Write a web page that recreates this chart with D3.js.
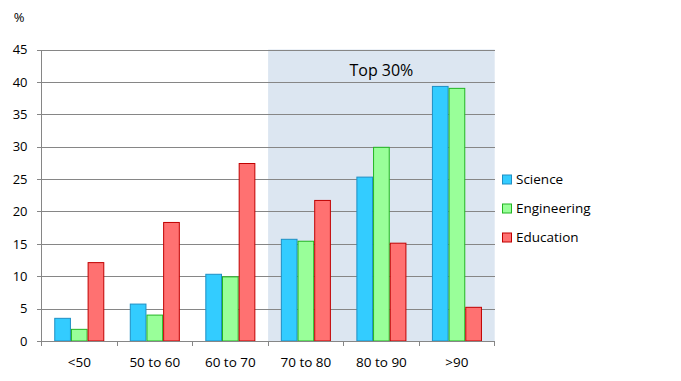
<!DOCTYPE html>
<html>
<head>
<meta charset="utf-8">
<script src="https://cdn.jsdelivr.net/npm/d3@7"></script>
<style>
  html, body { margin: 0; padding: 0; background: #fff; }
  svg { display: block; }
  text { font-family: "Open Sans", "Noto Sans", sans-serif; fill: #000; }
</style>
</head>
<body>
<svg id="chart" width="681" height="381"></svg>
<script>
const categories = ["<50", "50 to 60", "60 to 70", "70 to 80", "80 to 90", ">90"];
const seriesNames = ["Science", "Engineering", "Education"];
const science = [3.5, 5.7, 10.3, 15.7, 25.3, 39.3];
const engineering = [1.8, 4.0, 9.9, 15.4, 29.9, 39.0];
const education = [12.1, 18.3, 27.4, 21.7, 15.1, 5.2];
const yTicks = [0, 5, 10, 15, 20, 25, 30, 35, 40, 45];
const highlightFrom = "70 to 80";
const highlightLabel = "Top 30%";
const yUnit = "%";

(function () {
const seriesValues = [science, engineering, education];
const fills = ["#33ccff", "#99ff99", "#ff7171"];
const strokes = ["#1f8fc4", "#22b522", "#c00000"];

const svg = d3.select("#chart");
const pLeft = 41.5, pRight = 494.7, pTop = 49.5, pBottom = 341;

const x = d3.scaleBand().domain(categories).range([pLeft, pRight]).padding(0);
const inner = d3.scaleBand().domain(seriesNames).range([12.75, x.bandwidth() - 12.75]).padding(0);
const y = d3.scaleLinear().domain([0, 45]).range([pBottom, pTop]);

// highlight region
svg.append("rect")
  .attr("x", x(highlightFrom))
  .attr("y", y(45))
  .attr("width", pRight - x(highlightFrom))
  .attr("height", y(0) - y(45))
  .attr("fill", "#dce6f1");

// gridlines with left ticks
const yAxis = d3.axisLeft(y).tickValues(yTicks).tickSize(-(pRight - pLeft)).tickSizeOuter(0).tickPadding(10);
const gy = svg.append("g").attr("transform", `translate(${pLeft},0)`).call(yAxis);
gy.select(".domain").remove();
gy.selectAll(".tick line").attr("stroke", "#868686").attr("x1", -5).attr("shape-rendering", "crispEdges");
gy.selectAll(".tick text").attr("font-size", 13).attr("font-family", "'Open Sans', sans-serif").attr("fill", "#000").attr("x", -14);

// y axis line
svg.append("line").attr("x1", pLeft).attr("x2", pLeft).attr("y1", y(45)).attr("y2", y(0))
  .attr("stroke", "#868686").attr("shape-rendering", "crispEdges");

// bars
const groups = svg.append("g").selectAll("g").data(categories).join("g")
  .attr("transform", d => `translate(${x(d)},0)`);
seriesNames.forEach((s, si) => {
  groups.append("rect")
    .attr("x", inner(s) + 0.5)
    .attr("width", inner.bandwidth() - 1)
    .attr("y", (d, i) => y(seriesValues[si][i]))
    .attr("height", (d, i) => y(0) - y(seriesValues[si][i]))
    .attr("fill", fills[si])
    .attr("stroke", strokes[si])
    .attr("stroke-width", 1);
});

// x axis
const xAxis = d3.axisBottom(x).tickSize(0).tickPadding(16);
const gx = svg.append("g").attr("transform", `translate(0,${pBottom})`).call(xAxis);
gx.select(".domain").remove();
gx.selectAll(".tick text").attr("font-size", 13.5).attr("font-family", "'Open Sans', sans-serif").attr("fill", "#000");
svg.append("line").attr("x1", pLeft - 5).attr("x2", pRight).attr("y1", pBottom).attr("y2", pBottom)
  .attr("stroke", "#868686").attr("shape-rendering", "crispEdges");
const boundaries = categories.map(c => x(c)).concat([pRight]);
svg.append("g").selectAll("line").data(boundaries).join("line")
  .attr("x1", d => d).attr("x2", d => d).attr("y1", pBottom).attr("y2", pBottom + 5)
  .attr("stroke", "#868686").attr("shape-rendering", "crispEdges");

// highlight label
svg.append("text")
  .attr("x", (x(highlightFrom) + pRight) / 2)
  .attr("y", 76)
  .attr("text-anchor", "middle")
  .attr("font-size", 16)
  .text(highlightLabel);

// unit label
svg.append("text").attr("x", 19).attr("y", 22).attr("text-anchor", "middle").attr("font-size", 13).text(yUnit);

// legend
const legendY = [179.5, 208.5, 237.5];
seriesNames.forEach((s, si) => {
  svg.append("rect").attr("x", 502.5).attr("y", legendY[si] - 4.5).attr("width", 9).attr("height", 9)
    .attr("fill", fills[si]).attr("stroke", strokes[si]);
  svg.append("text").attr("x", 516).attr("y", legendY[si]).attr("dy", "0.35em")
    .attr("font-size", 13.5).text(s);
});
})();
</script>
</body>
</html>
